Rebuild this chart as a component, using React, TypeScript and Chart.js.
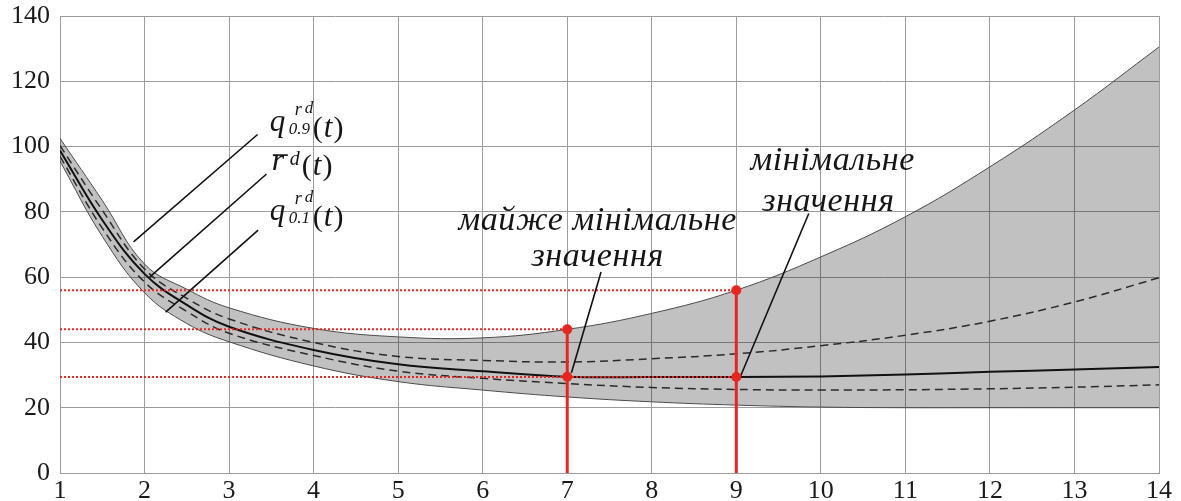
import React, { useEffect, useRef } from "react";
import { Chart, registerables } from "chart.js";

Chart.register(...registerables);

// Time axis (t) and the series sampled on it
const T = [1, 1.5, 2, 2.5, 3, 4, 5, 6, 7, 8, 9, 10, 11, 12, 13, 14];
const bandUpper = [102.5, 83.5, 64, 56.3, 50.6, 44.3, 41.7, 41.4, 44, 48.9, 56, 66.2, 78.5, 93.8, 111.2, 130.5];
const bandLower = [95.5, 72.5, 55.2, 45.8, 40.2, 32.8, 28, 25.4, 23.3, 21.8, 20.8, 20.2, 20, 20, 20, 20];
const q09 = [100.3, 80.5, 62.5, 53.5, 47.2, 40, 35.7, 34.5, 34.0, 35.0, 36.5, 39.0, 42.2, 46.5, 52.4, 59.8];
const meanR = [98.8, 77.5, 61, 51.5, 44.8, 37.7, 33.3, 31.2, 29.5, 29.4, 29.4, 29.6, 30.2, 31.0, 31.7, 32.5];
const q01 = [97, 75, 58.5, 49.5, 42.8, 36, 31.2, 29, 27.4, 26.2, 25.6, 25.4, 25.5, 25.8, 26.3, 27.0];

// Highlighted moments: almost-minimal (7) and minimal (9)
const markedT = [7, 9];

// Axis ranges / ticks
const X_TICKS = [1, 2, 3, 4, 5, 6, 7, 8, 9, 10, 11, 12, 13, 14];
const Y_TICKS = [0, 20, 40, 60, 80, 100, 120, 140];

// Caption text, anchored in data coordinates
const notes = [
  { text: "майже мінімальне", x: 7.36, y: 74.4 },
  { text: "значення", x: 7.36, y: 63.4 },
  { text: "мінімальне", x: 10.14, y: 92.8 },
  { text: "значення", x: 10.09, y: 80.3 },
];

// Pointer lines from the captions to the curves: [x0, y0, x1, y1]
const pointers = [
  [3.337, 103.7, 1.87, 70.8],
  [3.443, 91.6, 2.06, 60.0],
  [3.344, 74.4, 2.25, 49.3],
  [7.4, 61.6, 7.05, 30.7],
  [9.857, 79.5, 9.046, 29.4],
];

// Formula labels (left edge / baseline of the main letter)
const formulaAnchors = {
  q09: { x: 3.482, y: 104.75 },
  mean: { x: 3.506, y: 92.8 },
  q01: { x: 3.482, y: 77.5 },
};

const SERIF = "'Liberation Serif', 'Times New Roman', serif";
const RED = "rgb(232, 38, 32)";
const GRID = "#9c9c9c";

const pts = (ys: number[]) => T.map((t, i) => ({ x: t, y: ys[i] }));
const at = (ys: number[], t: number) => ys[T.indexOf(t)];

function drawFormula(
  ctx: CanvasRenderingContext2D,
  ax: number,
  ay: number,
  kind: "q" | "mean",
  sub?: string
) {
  const big = `italic 31px ${SERIF}`;
  const up = `30px ${SERIF}`;
  ctx.textAlign = "left";
  ctx.textBaseline = "alphabetic";
  let parenX: number;
  let parenY: number;
  if (kind === "q") {
    ctx.font = big;
    ctx.fillText("q", ax, ay);
    ctx.font = `italic 18px ${SERIF}`;
    ctx.fillText("r", ax + 25, ay - 16);
    ctx.font = `italic 17px ${SERIF}`;
    ctx.fillText("d", ax + 35, ay - 18);
    ctx.font = `italic 17px ${SERIF}`;
    ctx.fillText(sub || "", ax + 19, ay + 3);
    parenX = ax + 43;
    parenY = ay + 6;
  } else {
    ctx.font = `italic 32px ${SERIF}`;
    ctx.fillText("r", ax, ay);
    ctx.save();
    ctx.strokeStyle = "#111";
    ctx.lineWidth = 1.6;
    ctx.beginPath();
    ctx.moveTo(ax + 1, ay - 15);
    ctx.lineTo(ax + 16, ay - 15);
    ctx.stroke();
    ctx.restore();
    ctx.font = `italic 20px ${SERIF}`;
    ctx.fillText("d", ax + 18, ay - 5);
    parenX = ax + 30;
    parenY = ay + 5;
  }
  ctx.font = up;
  ctx.fillText("(", parenX, parenY);
  let w = ctx.measureText("(").width;
  ctx.font = big;
  ctx.fillText("t", parenX + w + 1, parenY);
  w += ctx.measureText("t").width + 2;
  ctx.font = up;
  ctx.fillText(")", parenX + w, parenY);
}

const captionPlugin = {
  id: "captions",
  afterDatasetsDraw(chart: any) {
    const { ctx, scales } = chart;
    const xs = scales.x;
    const ys = scales.y;
    ctx.save();
    ctx.fillStyle = "#151515";
    ctx.font = `italic 34px ${SERIF}`;
    (ctx as any).letterSpacing = "0.6px";
    ctx.textAlign = "center";
    ctx.textBaseline = "alphabetic";
    for (const n of notes) {
      ctx.fillText(n.text, xs.getPixelForValue(n.x), ys.getPixelForValue(n.y));
    }
    (ctx as any).letterSpacing = "0px";
    const f = formulaAnchors;
    drawFormula(ctx, xs.getPixelForValue(f.q09.x), ys.getPixelForValue(f.q09.y), "q", "0.9");
    drawFormula(ctx, xs.getPixelForValue(f.mean.x), ys.getPixelForValue(f.mean.y), "mean");
    drawFormula(ctx, xs.getPixelForValue(f.q01.x), ys.getPixelForValue(f.q01.y), "q", "0.1");
    ctx.restore();
  },
};

export default function App() {
  const ref = useRef<HTMLCanvasElement | null>(null);

  useEffect(() => {
    document.body.style.margin = "0";
    document.body.style.background = "#ffffff";
    const canvas = ref.current;
    if (!canvas) return;

    const line = (data: any[], extra: any) => ({
      type: "line",
      data,
      pointRadius: 0,
      fill: false,
      tension: 0,
      ...extra,
    });

    const smooth = { tension: 0.4, cubicInterpolationMode: "default" };

    const datasets: any[] = [
      // 0: upper edge of the band, filled down to dataset 1
      line(pts(bandUpper), {
        ...smooth,
        borderColor: "#4a4a4a",
        borderWidth: 1,
        fill: "+1",
        backgroundColor: "rgba(0,0,0,0.245)",
        order: 20,
      }),
      // 1: lower edge of the band
      line(pts(bandLower), {
        ...smooth,
        borderColor: "#4a4a4a",
        borderWidth: 1,
        order: 19,
      }),
      // quantiles
      line(pts(q09), {
        ...smooth,
        borderColor: "#2a2a2a",
        borderWidth: 1.5,
        borderDash: [8, 5],
        order: 18,
      }),
      line(pts(q01), {
        ...smooth,
        borderColor: "#2a2a2a",
        borderWidth: 1.5,
        borderDash: [8, 5],
        order: 17,
      }),
      // mean
      line(pts(meanR), {
        ...smooth,
        borderColor: "#111111",
        borderWidth: 2,
        order: 16,
      }),
    ];

    // dotted reference levels
    const [t1, t2] = markedT;
    const levels = [
      { y: at(bandUpper, t2), to: t2 },
      { y: at(bandUpper, t1), to: t1 },
      { y: at(meanR, t2), to: t2 },
    ];
    levels.forEach((l) =>
      datasets.push(
        line(
          [
            { x: X_TICKS[0], y: l.y },
            { x: l.to, y: l.y },
          ],
          { borderColor: RED, borderWidth: 2, borderDash: [2, 2], order: 15 }
        )
      )
    );

    // vertical red markers
    markedT.forEach((t) =>
      datasets.push(
        line(
          [
            { x: t, y: 0 },
            { x: t, y: at(bandUpper, t) },
          ],
          { borderColor: RED, borderWidth: 3, order: 14 }
        )
      )
    );

    // pointer lines
    pointers.forEach((p) =>
      datasets.push(
        line(
          [
            { x: p[0], y: p[1] },
            { x: p[2], y: p[3] },
          ],
          { borderColor: "#111111", borderWidth: 1.6, order: 13 }
        )
      )
    );

    // red dots
    const dots: { x: number; y: number }[] = [];
    markedT.forEach((t) => {
      dots.push({ x: t, y: at(bandUpper, t) });
      dots.push({ x: t, y: at(meanR, t) });
    });
    datasets.push({
      type: "scatter",
      data: dots,
      pointRadius: 5,
      pointBackgroundColor: RED,
      pointBorderColor: RED,
      pointBorderWidth: 0,
      showLine: false,
      order: 1,
    });

    const tickFont = { family: SERIF, size: 26 };

    const chart = new Chart(canvas, {
      type: "line",
      data: { datasets },
      plugins: [captionPlugin],
      options: {
        responsive: false,
        animation: false,
        devicePixelRatio: 1,
        layout: { padding: { left: 0, right: 22, top: 16, bottom: 0 }, autoPadding: false },
        plugins: {
          legend: { display: false },
          tooltip: { enabled: false },
        },
        scales: {
          x: {
            type: "linear",
            min: X_TICKS[0],
            max: X_TICKS[X_TICKS.length - 1],
            afterFit: (s: any) => {
              s.height = 28;
              s.paddingLeft = 0;
              s.paddingRight = 0;
              s.paddingTop = 0;
              s.paddingBottom = 0;
            },
            afterBuildTicks: (s: any) => {
              s.ticks = X_TICKS.map((v) => ({ value: v }));
            },
            ticks: { font: tickFont, color: "#1a1a1a", padding: 3, maxRotation: 0, autoSkip: false },
            grid: { color: GRID, lineWidth: 1, drawTicks: false },
            border: { display: true, color: GRID, width: 1 },
          },
          y: {
            type: "linear",
            min: Y_TICKS[0],
            max: Y_TICKS[Y_TICKS.length - 1],
            afterFit: (s: any) => {
              s.width = 60;
              s.paddingLeft = 0;
              s.paddingRight = 0;
              s.paddingTop = 0;
              s.paddingBottom = 0;
            },
            afterBuildTicks: (s: any) => {
              s.ticks = Y_TICKS.map((v) => ({ value: v }));
            },
            ticks: { font: tickFont, color: "#1a1a1a", padding: 10 },
            grid: { color: GRID, lineWidth: 1, drawTicks: false },
            border: { display: true, color: GRID, width: 1 },
          },
        },
      },
    } as any);

    return () => chart.destroy();
  }, []);

  return (
    <div style={{ width: 1181, height: 501, background: "#fff" }}>
      <canvas ref={ref} width={1181} height={501} style={{ display: "block" }} />
    </div>
  );
}
